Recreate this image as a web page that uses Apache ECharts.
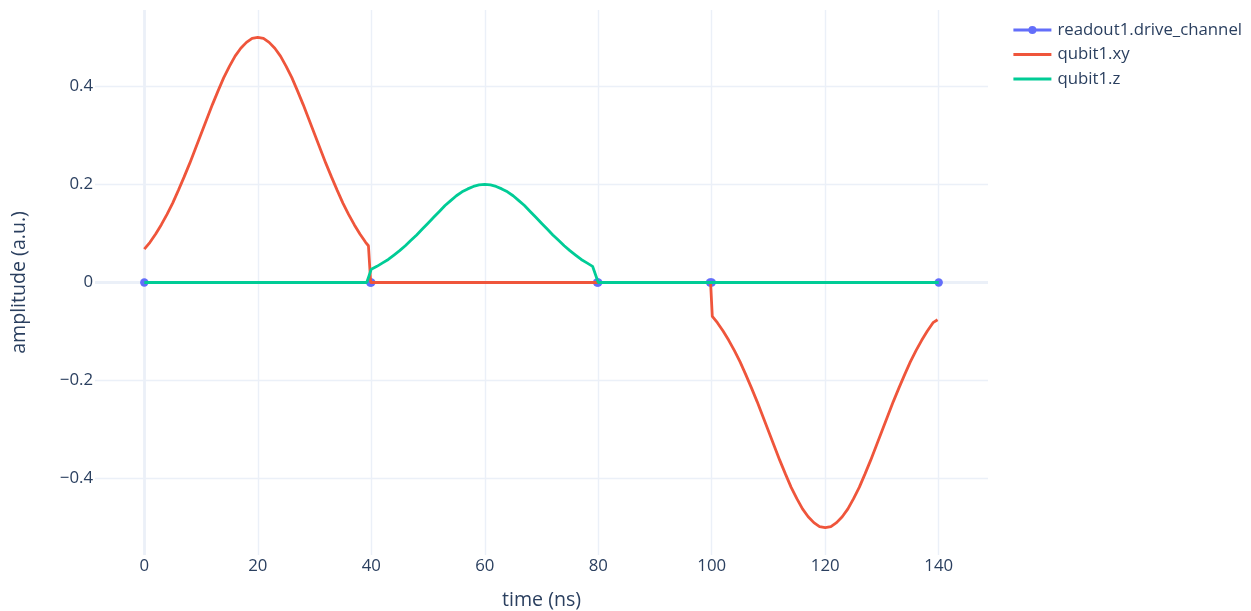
<!DOCTYPE html>
<html>
<head>
<meta charset="utf-8">
<script src="https://cdn.jsdelivr.net/npm/echarts@6/dist/echarts.min.js"></script>
<style>
html,body{margin:0;padding:0;background:#fff;overflow:hidden;}
#chart{width:1251px;height:611px;}
</style>
</head>
<body>
<div id="chart"></div>
<script>
// ---- data ----
const xTicks = [0, 20, 40, 60, 80, 100, 120, 140];
const yTicks = [-0.4, -0.2, 0, 0.2, 0.4];

const readoutTime  = [0, 39.8, 40, 79.8, 80, 99.7, 100, 140];
const readoutValue = [0, 0, 0, 0, 0, 0, 0, 0];

const xyTime = [0, 1, 2, 3, 4, 5, 6, 7, 8, 9, 10, 11, 12, 13, 14, 15, 16, 17, 18, 19,
                20, 21, 22, 23, 24, 25, 26, 27, 28, 29, 30, 31, 32, 33, 34, 35, 36, 37, 38, 39, 39.5, 39.9,
                99.8, 100.1, 101, 102, 103, 104, 105, 106, 107, 108, 109, 110, 111, 112, 113, 114, 115, 116, 117, 118, 119,
                120, 121, 122, 123, 124, 125, 126, 127, 128, 129, 130, 131, 132, 133, 134, 135, 136, 137, 138, 139, 139.8];
const xyValue = [0.068, 0.082, 0.099, 0.118, 0.139, 0.162, 0.188, 0.215, 0.243, 0.273, 0.303, 0.333, 0.363, 0.391, 0.418, 0.441, 0.462, 0.478, 0.490, 0.498,
                 0.500, 0.498, 0.490, 0.478, 0.462, 0.441, 0.418, 0.391, 0.363, 0.333, 0.303, 0.273, 0.243, 0.215, 0.188, 0.162, 0.139, 0.118, 0.099, 0.082, 0.075, 0,
                 0, -0.069, -0.082, -0.099, -0.118, -0.139, -0.162, -0.188, -0.215, -0.243, -0.273, -0.303, -0.333, -0.363, -0.391, -0.418, -0.441, -0.462, -0.478, -0.490, -0.498,
                 -0.500, -0.498, -0.490, -0.478, -0.462, -0.441, -0.418, -0.391, -0.363, -0.333, -0.303, -0.273, -0.243, -0.215, -0.188, -0.162, -0.139, -0.118, -0.099, -0.082, -0.076];

const zTime  = [0, 39.2, 40, 41, 42, 43, 44, 45, 46, 47, 48, 49, 50, 51, 52, 53, 54, 55, 56, 57, 58, 59,
                60, 61, 62, 63, 64, 65, 66, 67, 68, 69, 70, 71, 72, 73, 74, 75, 76, 77, 78, 79, 80, 140];
const zValue = [0, 0, 0.027, 0.033, 0.040, 0.047, 0.056, 0.065, 0.075, 0.086, 0.097, 0.109, 0.121, 0.133, 0.145, 0.157, 0.167, 0.177, 0.185, 0.191, 0.196, 0.199,
                0.200, 0.199, 0.196, 0.191, 0.185, 0.177, 0.167, 0.157, 0.145, 0.133, 0.121, 0.109, 0.097, 0.086, 0.075, 0.065, 0.056, 0.047, 0.040, 0.033, 0, 0];

const seriesNames = ['readout1.drive_channel', 'qubit1.xy', 'qubit1.z'];
const colors = ['#636efa', '#EF553B', '#00cc96'];

function pairs(t, v) { return t.map((x, i) => [x, v[i]]); }

const textColor = '#2a3f5f';
const gridColor = '#EBF0F8';
const fontFamily = '"Open Sans", verdana, arial, sans-serif';

const chart = echarts.init(document.getElementById('chart'), null, {renderer: 'canvas'});
chart.setOption({
  animation: false,
  backgroundColor: '#ffffff',
  textStyle: {fontFamily: fontFamily, color: textColor},
  grid: {left: 95, right: 263, top: 10, bottom: 56, containLabel: false, outerBoundsMode: 'none'},
  legend: {
    orient: 'vertical',
    left: 1012,
    top: 20,
    padding: 0,
    itemWidth: 38,
    itemHeight: 10,
    itemGap: 4.5,
    data: [
      {name: seriesNames[0]},
      {name: seriesNames[1], itemStyle: {opacity: 0}},
      {name: seriesNames[2], itemStyle: {opacity: 0}}
    ],
    lineStyle: {width: 2.8},
    textStyle: {fontFamily: fontFamily, color: textColor, fontSize: 16.8, lineHeight: 20, padding: [0, 0, 0, 1]}
  },
  xAxis: {
    type: 'value',
    min: -8.69,
    max: 148.69,
    name: 'time (ns)',
    nameLocation: 'middle',
    nameGap: 35,
    nameTextStyle: {fontFamily: fontFamily, color: textColor, fontSize: 19.6},
    axisLine: {show: false},
    axisTick: {show: false, customValues: xTicks},
    axisLabel: {customValues: xTicks, color: textColor, fontSize: 16.8, fontFamily: fontFamily, margin: 3},
    splitLine: {show: true, lineStyle: {color: gridColor, width: 1.4}}
  },
  yAxis: {
    type: 'value',
    min: -0.556,
    max: 0.556,
    name: 'amplitude (a.u.)',
    nameLocation: 'middle',
    nameGap: 66,
    nameTextStyle: {fontFamily: fontFamily, color: textColor, fontSize: 19.6},
    axisLine: {show: false},
    axisTick: {show: false, customValues: yTicks},
    axisLabel: {
      customValues: yTicks, color: textColor, fontSize: 16.8, fontFamily: fontFamily, margin: 2,
      formatter: function (v) {
        if (Math.abs(v) < 1e-9) return '0';
        const s = Math.abs(v).toFixed(1);
        return v < 0 ? '\u2212' + s : s;
      }
    },
    splitLine: {show: true, lineStyle: {color: gridColor, width: 1.4}}
  },
  series: [
    {
      name: seriesNames[0],
      type: 'line',
      z: 2,
      data: pairs(readoutTime, readoutValue),
      color: colors[0],
      symbol: 'circle',
      symbolSize: 8.4,
      showSymbol: true,
      lineStyle: {width: 2.8, color: colors[0]},
      itemStyle: {color: colors[0]},
      markLine: {
        silent: true,
        z: 1,
        symbol: 'none',
        label: {show: false},
        lineStyle: {color: gridColor, width: 2.8, type: 'solid'},
        data: [{yAxis: 0}, {xAxis: 0}]
      }
    },
    {
      name: seriesNames[1],
      type: 'line',
      z: 3,
      data: pairs(xyTime, xyValue),
      color: colors[1],
      symbol: 'none',
      lineStyle: {width: 2.8, color: colors[1]},
      itemStyle: {color: colors[1]}
    },
    {
      name: seriesNames[2],
      type: 'line',
      z: 4,
      data: pairs(zTime, zValue),
      color: colors[2],
      symbol: 'none',
      lineStyle: {width: 2.8, color: colors[2]},
      itemStyle: {color: colors[2]}
    }
  ]
});
</script>
</body>
</html>
